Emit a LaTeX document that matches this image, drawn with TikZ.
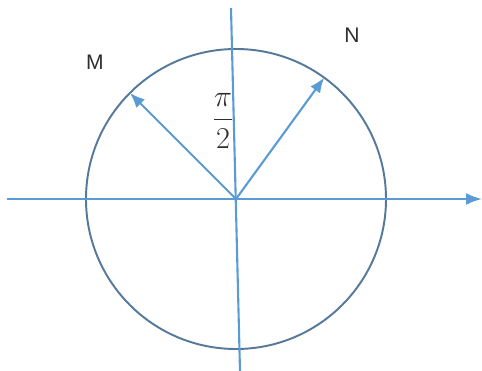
\documentclass[tikz,border=0pt]{standalone}
\usepackage{amsmath,amssymb}
\usepackage{fontspec}
\usepackage{tikz}
\usepackage{xcolor}
\usetikzlibrary{positioning,arrows.meta}
\newfontfamily\labelfont{Liberation Sans}
\definecolor{axisblue}{HTML}{5B9BD5}
\definecolor{circblue}{HTML}{54799B}
\definecolor{labelgray}{HTML}{2E2E2E}

\begin{document}
\begin{tikzpicture}[
    axisline/.style={axisblue,line width=1.2pt},
    vecline/.style={axisblue,line width=1.2pt,-{Latex[length=0.3cm,width=0.24cm]}},
    ptlabel/.style={font=\labelfont\fontsize{12}{14}\selectfont,text=labelgray}]
  \useasboundingbox (-4.72,-3.44) rectangle (4.92,3.98);
  % centre and axis ends
  \coordinate (O) at (0,0);
  \coordinate (xl) at (-4.58,0);
  \coordinate (xr) at (4.92,0);
  \coordinate (yt) at (-0.1,3.82);
  \coordinate (yb) at (0.08,-3.44);
  % unit circle
  \draw[circblue,line width=1.1pt] (O) circle (3);
  % axes
  \draw[axisline,-{Latex[length=0.32cm,width=0.24cm]}] (xl) -- (xr);
  \draw[axisline] (yt) -- (yb);
  % points on the circle
  \coordinate (Mtip) at (135:3);
  \coordinate (Ntip) at (54:3);
  \draw[vecline] (O) -- (Mtip);
  \draw[vecline] (O) -- (Ntip);
  \node[ptlabel] (Mlab) at (-2.82,2.74) {M};
  \node[ptlabel] (Nlab) at (2.32,3.28) {N};
  \node[font=\fontsize{17}{20}\selectfont,text=labelgray] (ang) at (-0.26,1.56) {$\dfrac{\pi}{2}$};
\end{tikzpicture}
\end{document}
